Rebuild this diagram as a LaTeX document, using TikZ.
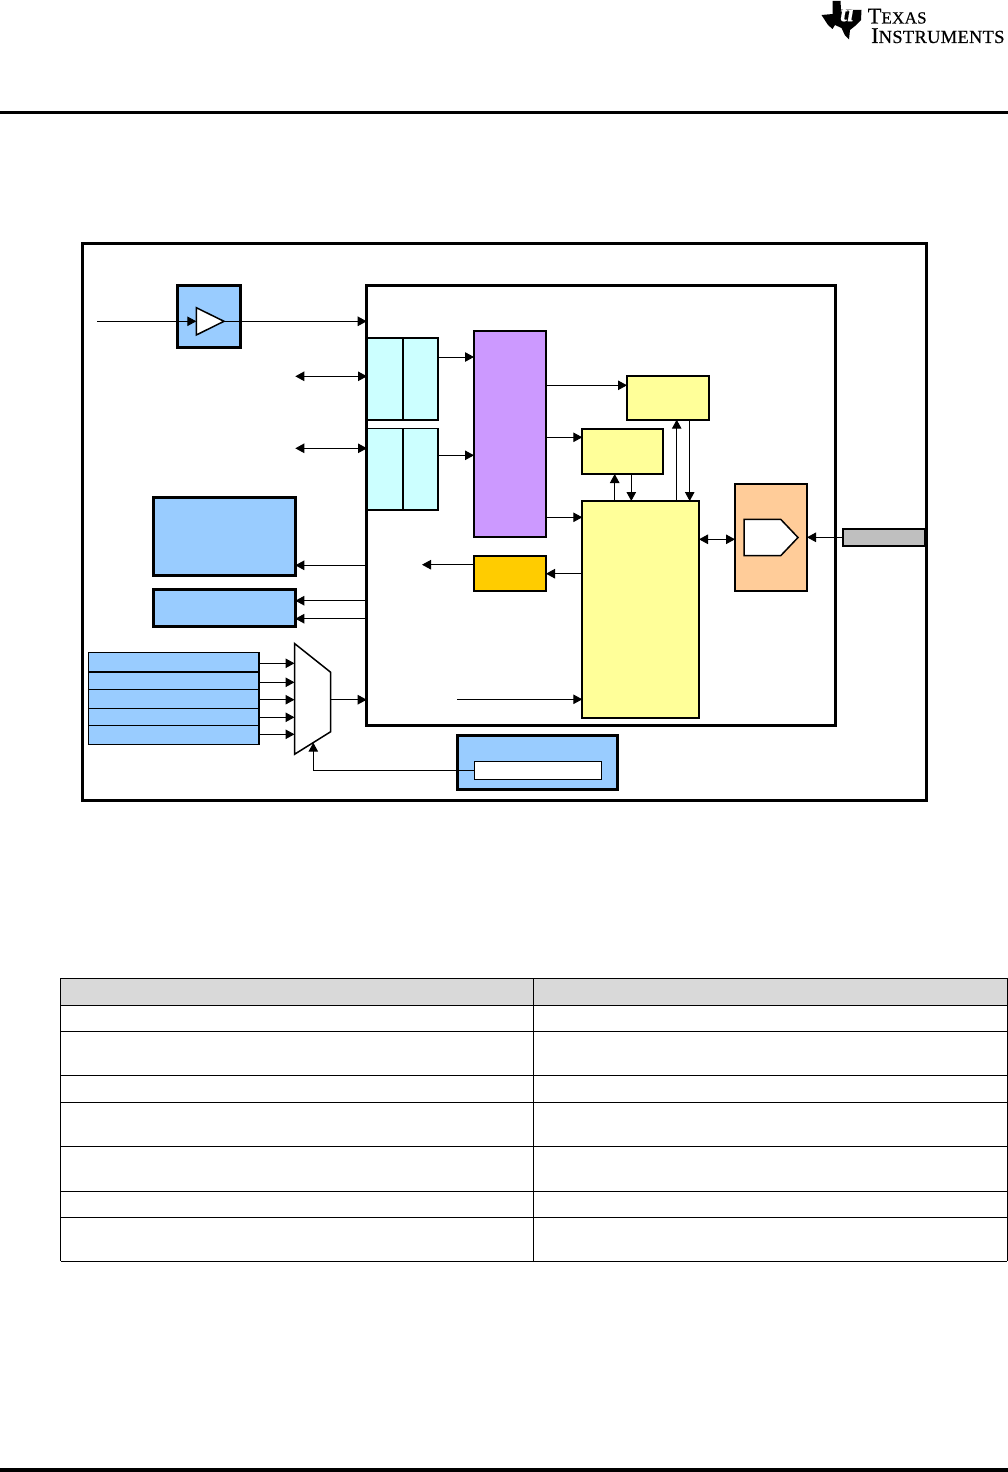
\documentclass[tikz,border=0pt]{standalone}
\usepackage{tikz}
\usetikzlibrary{arrows.meta,positioning}
\usepackage{xcolor}
\usepackage{fontspec}
\newfontfamily\logofont[LetterSpace=1.5,FakeBold=0.5]{Liberation Serif}
\definecolor{blockblue}{RGB}{153,204,255}
\definecolor{blockcyan}{RGB}{204,255,255}
\definecolor{blockpurple}{RGB}{204,153,255}
\definecolor{blockyellow}{RGB}{255,255,153}
\definecolor{blockorange}{RGB}{255,204,153}
\definecolor{blockgold}{RGB}{255,204,0}
\definecolor{blockgray}{RGB}{191,191,191}
\definecolor{headgray}{RGB}{217,217,217}

\begin{document}
\begin{tikzpicture}[
    x=1pt, y=-1pt,
    >={Triangle[length=9pt,width=9.5pt]},
    arr/.style={->, line width=1pt},
    dblarr/.style={<->, line width=1pt},
    wire/.style={line width=1pt},
    block/.style={draw=black, inner sep=0pt, outer sep=0pt, anchor=north west},
    heavybox/.style={block, fill=#1, line width=3pt},
    midbox/.style={block, fill=#1, line width=2pt},
    thinbox/.style={block, fill=#1, line width=1.5pt},
    rule/.style={line width=3pt},
    tableline/.style={line width=1pt},
    logotext/.style={font=\logofont, inner sep=0pt, anchor=base west},
]
\useasboundingbox (0,0) rectangle (1008,1472);

% ============ PAGE HEADER ============
\draw[rule] (0,112.5) -- (1008,112.5);
\draw[line width=3.5pt] (0,1470.2) -- (1008,1470.2);
\fill[black] (832.5,1) -- (840.5,1) -- (841,9.5) -- (861.5,10) -- (861,20) -- (855,26) -- (850,30)
  -- (849,39.5) -- (845,35.5) -- (841.5,28) -- (835,25) -- (832.5,29) -- (828,25) -- (821.5,15) -- (832.5,14) -- cycle;
\node[font=\logofont\fontsize{24}{24}\selectfont\bfseries\itshape, text=white, inner sep=0pt] (logoti) at (847,13) {ti};
\node[logotext] (logotexas) at (867.5,23.5) {\fontsize{22.5}{22.5}\selectfont T\fontsize{17}{17}\selectfont EXAS};
\node[logotext] (logoinst) at (871,43) {\fontsize{22.5}{22.5}\selectfont I\fontsize{18.5}{18.5}\selectfont NSTRUMENTS};

% ============ OUTER FRAME ============
\node[block, line width=3pt, minimum width=844pt, minimum height=556.8pt] (frame) at (82.5,243.5) {};
\node[block, line width=3pt, minimum width=469pt, minimum height=439.7pt] (mainbox) at (366.7,285.3) {};

% ============ CLOCK BUFFER ============
\node[heavybox=blockblue, minimum width=63pt, minimum height=62pt] (bufbox) at (177.5,285.5) {};
\coordinate (clkin) at (97,321.3);
\coordinate (bufin) at (196.3,321.3);
\coordinate (bufout) at (224,321.3);
\draw[arr] (clkin) -- (bufin);
\draw[arr] (bufout) -- (mainbox.west |- bufout);
\draw[line width=1.5pt, fill=white] (196.3,307.7) -- (bufout) -- (196.3,335) -- cycle;

% ============ FIFO PAIRS ============
\node[thinbox=blockcyan, minimum width=36pt, minimum height=82pt] (fifoa) at (367,338) {};
\node[thinbox=blockcyan, minimum width=35pt, minimum height=82pt, right=0pt of fifoa] (fifob) {};
\node[thinbox=blockcyan, minimum width=36pt, minimum height=81.3pt] (fifoc) at (367,428.7) {};
\node[thinbox=blockcyan, minimum width=35pt, minimum height=81.3pt, right=0pt of fifoc] (fifod) {};
\coordinate (busa) at (295.3,376.3);
\coordinate (busb) at (295.3,448.3);
\draw[dblarr] (busa) -- (fifoa.west |- busa);
\draw[dblarr] (busb) -- (fifoc.west |- busb);

% ============ MATRIX BLOCK ============
\node[midbox=blockpurple, minimum width=72pt, minimum height=205.5pt] (xbar) at (474,331) {};
\draw[arr] (fifob.east |- 0,357) -- (xbar.west |- 0,357);
\draw[arr] (fifod.east |- 0,455.3) -- (xbar.west |- 0,455.3);

% ============ MEMORY AND CORE ============
\node[midbox=blockyellow, minimum width=82pt, minimum height=43.7pt] (memhi) at (627,376) {};
\node[midbox=blockyellow, minimum width=80.7pt, minimum height=45pt] (memlo) at (582.3,429) {};
\node[midbox=blockyellow, minimum width=116.7pt, minimum height=217pt] (core) at (582.3,501) {};
\draw[arr] (xbar.east |- 0,385.3) -- (memhi.west |- 0,385.3);
\draw[arr] (xbar.east |- 0,437.3) -- (memlo.west |- 0,437.3);
\draw[arr] (xbar.east |- 0,517.3) -- (core.west |- 0,517.3);
\draw[arr] (core.north -| 614.7,0) -- (memlo.south -| 614.7,0);
\draw[arr] (memlo.south -| 631.3,0) -- (core.north -| 631.3,0);
\draw[arr] (core.north -| 676.7,0) -- (memhi.south -| 676.7,0);
\draw[arr] (memhi.south -| 689.7,0) -- (core.north -| 689.7,0);
\coordinate (corein) at (457,699.3);
\draw[arr] (corein) -- (core.west |- corein);

% ============ PERIPHERAL SMALL BOX ============
\node[midbox=blockgold, minimum width=72pt, minimum height=35pt] (gpbox) at (474,556) {};
\coordinate (gpout) at (422,564.7);
\draw[arr] (gpbox.west |- gpout) -- (gpout);
\draw[arr] (core.west |- 0,573.7) -- (gpbox.east |- 0,573.7);

% ============ DEBUG PORT ============
\node[midbox=blockorange, minimum width=72pt, minimum height=107pt] (dbg) at (735,484) {};
\draw[line width=1.5pt, fill=white] (744,519.3) -- (780.7,519.3) -- (798,537.5) -- (780.7,555.7) -- (744,555.7) -- cycle;
\node[midbox=blockgray, minimum width=81.5pt, minimum height=17pt] (padbox) at (843.2,529.2) {};
\draw[dblarr] (core.east |- 0,539.3) -- (dbg.west |- 0,539.3);
\draw[arr] (padbox.west |- 0,537.3) -- (dbg.east |- 0,537.3);

% ============ LEFT BLOCKS ============
\node[heavybox=blockblue, minimum width=141.7pt, minimum height=77.5pt] (topbox) at (153.6,497.5) {};
\node[heavybox=blockblue, minimum width=141.7pt, minimum height=37.5pt] (lowbox) at (153.6,589) {};
\draw[arr] (mainbox.west |- 0,565.3) -- (topbox.east |- 0,565.3);
\draw[arr] (mainbox.west |- 0,600.7) -- (lowbox.east |- 0,600.7);
\draw[arr] (mainbox.west |- 0,618.7) -- (lowbox.east |- 0,618.7);

% ============ SOURCE STACK AND MUX ============
\node[thinbox=blockblue, minimum width=170.5pt, minimum height=19.3pt] (srca) at (88.7,652.7) {};
\node[thinbox=blockblue, minimum width=170.5pt, minimum height=17.3pt, below=0pt of srca] (srcb) {};
\node[thinbox=blockblue, minimum width=170.5pt, minimum height=19pt, below=0pt of srcb] (srcc) {};
\node[thinbox=blockblue, minimum width=170.5pt, minimum height=17pt, below=0pt of srcc] (srcd) {};
\node[thinbox=blockblue, minimum width=170.5pt, minimum height=19pt, below=0pt of srcd] (srce) {};
\coordinate (muxtl) at (294.5,643.5);
\coordinate (muxbl) at (294.5,754.3);
\coordinate (muxout) at (330.7,699.7);
\coordinate (muxsel) at (313.3,742.7);
\draw[line width=1.5pt, fill=white] (muxtl) -- (330.7,672.3) -- (330.7,731.7) -- (muxbl) -- cycle;
\draw[arr] (srca.east |- 0,663.3) -- (muxtl |- 0,663.3);
\draw[arr] (srcb.east |- 0,682.3) -- (muxtl |- 0,682.3);
\draw[arr] (srcc.east |- 0,699.7) -- (muxtl |- 0,699.7);
\draw[arr] (srcd.east |- 0,717.3) -- (muxtl |- 0,717.3);
\draw[arr] (srce.east |- 0,734.3) -- (muxtl |- 0,734.3);
\draw[arr] (muxout) -- (mainbox.west |- muxout);

% ============ SELECT REGISTER ============
\node[heavybox=blockblue, minimum width=160pt, minimum height=53.5pt] (sysbox) at (457.5,735.5) {};
\node[block, fill=white, line width=1pt, minimum width=127.4pt, minimum height=18.6pt] (selreg) at (474.3,761) {};
\draw[arr] (selreg.west) -| (muxsel);

% ============ TABLE ============
\fill[headgray] (60.5,978.3) rectangle (1007.3,1005.3);
\foreach \rowy in {978.3,1005.3,1031.3,1075.3,1102.3,1146.3,1191,1217.3,1261.3}
  \draw[tableline] (60.5,\rowy) -- (1007.3,\rowy);
\draw[tableline] (60.5,978.3) -- (60.5,1261.3);
\draw[line width=0.7pt] (533.3,978.3) -- (533.3,1261.3);
\draw[tableline] (1007.3,978.3) -- (1007.3,1261.3);

\end{tikzpicture}
\end{document}
